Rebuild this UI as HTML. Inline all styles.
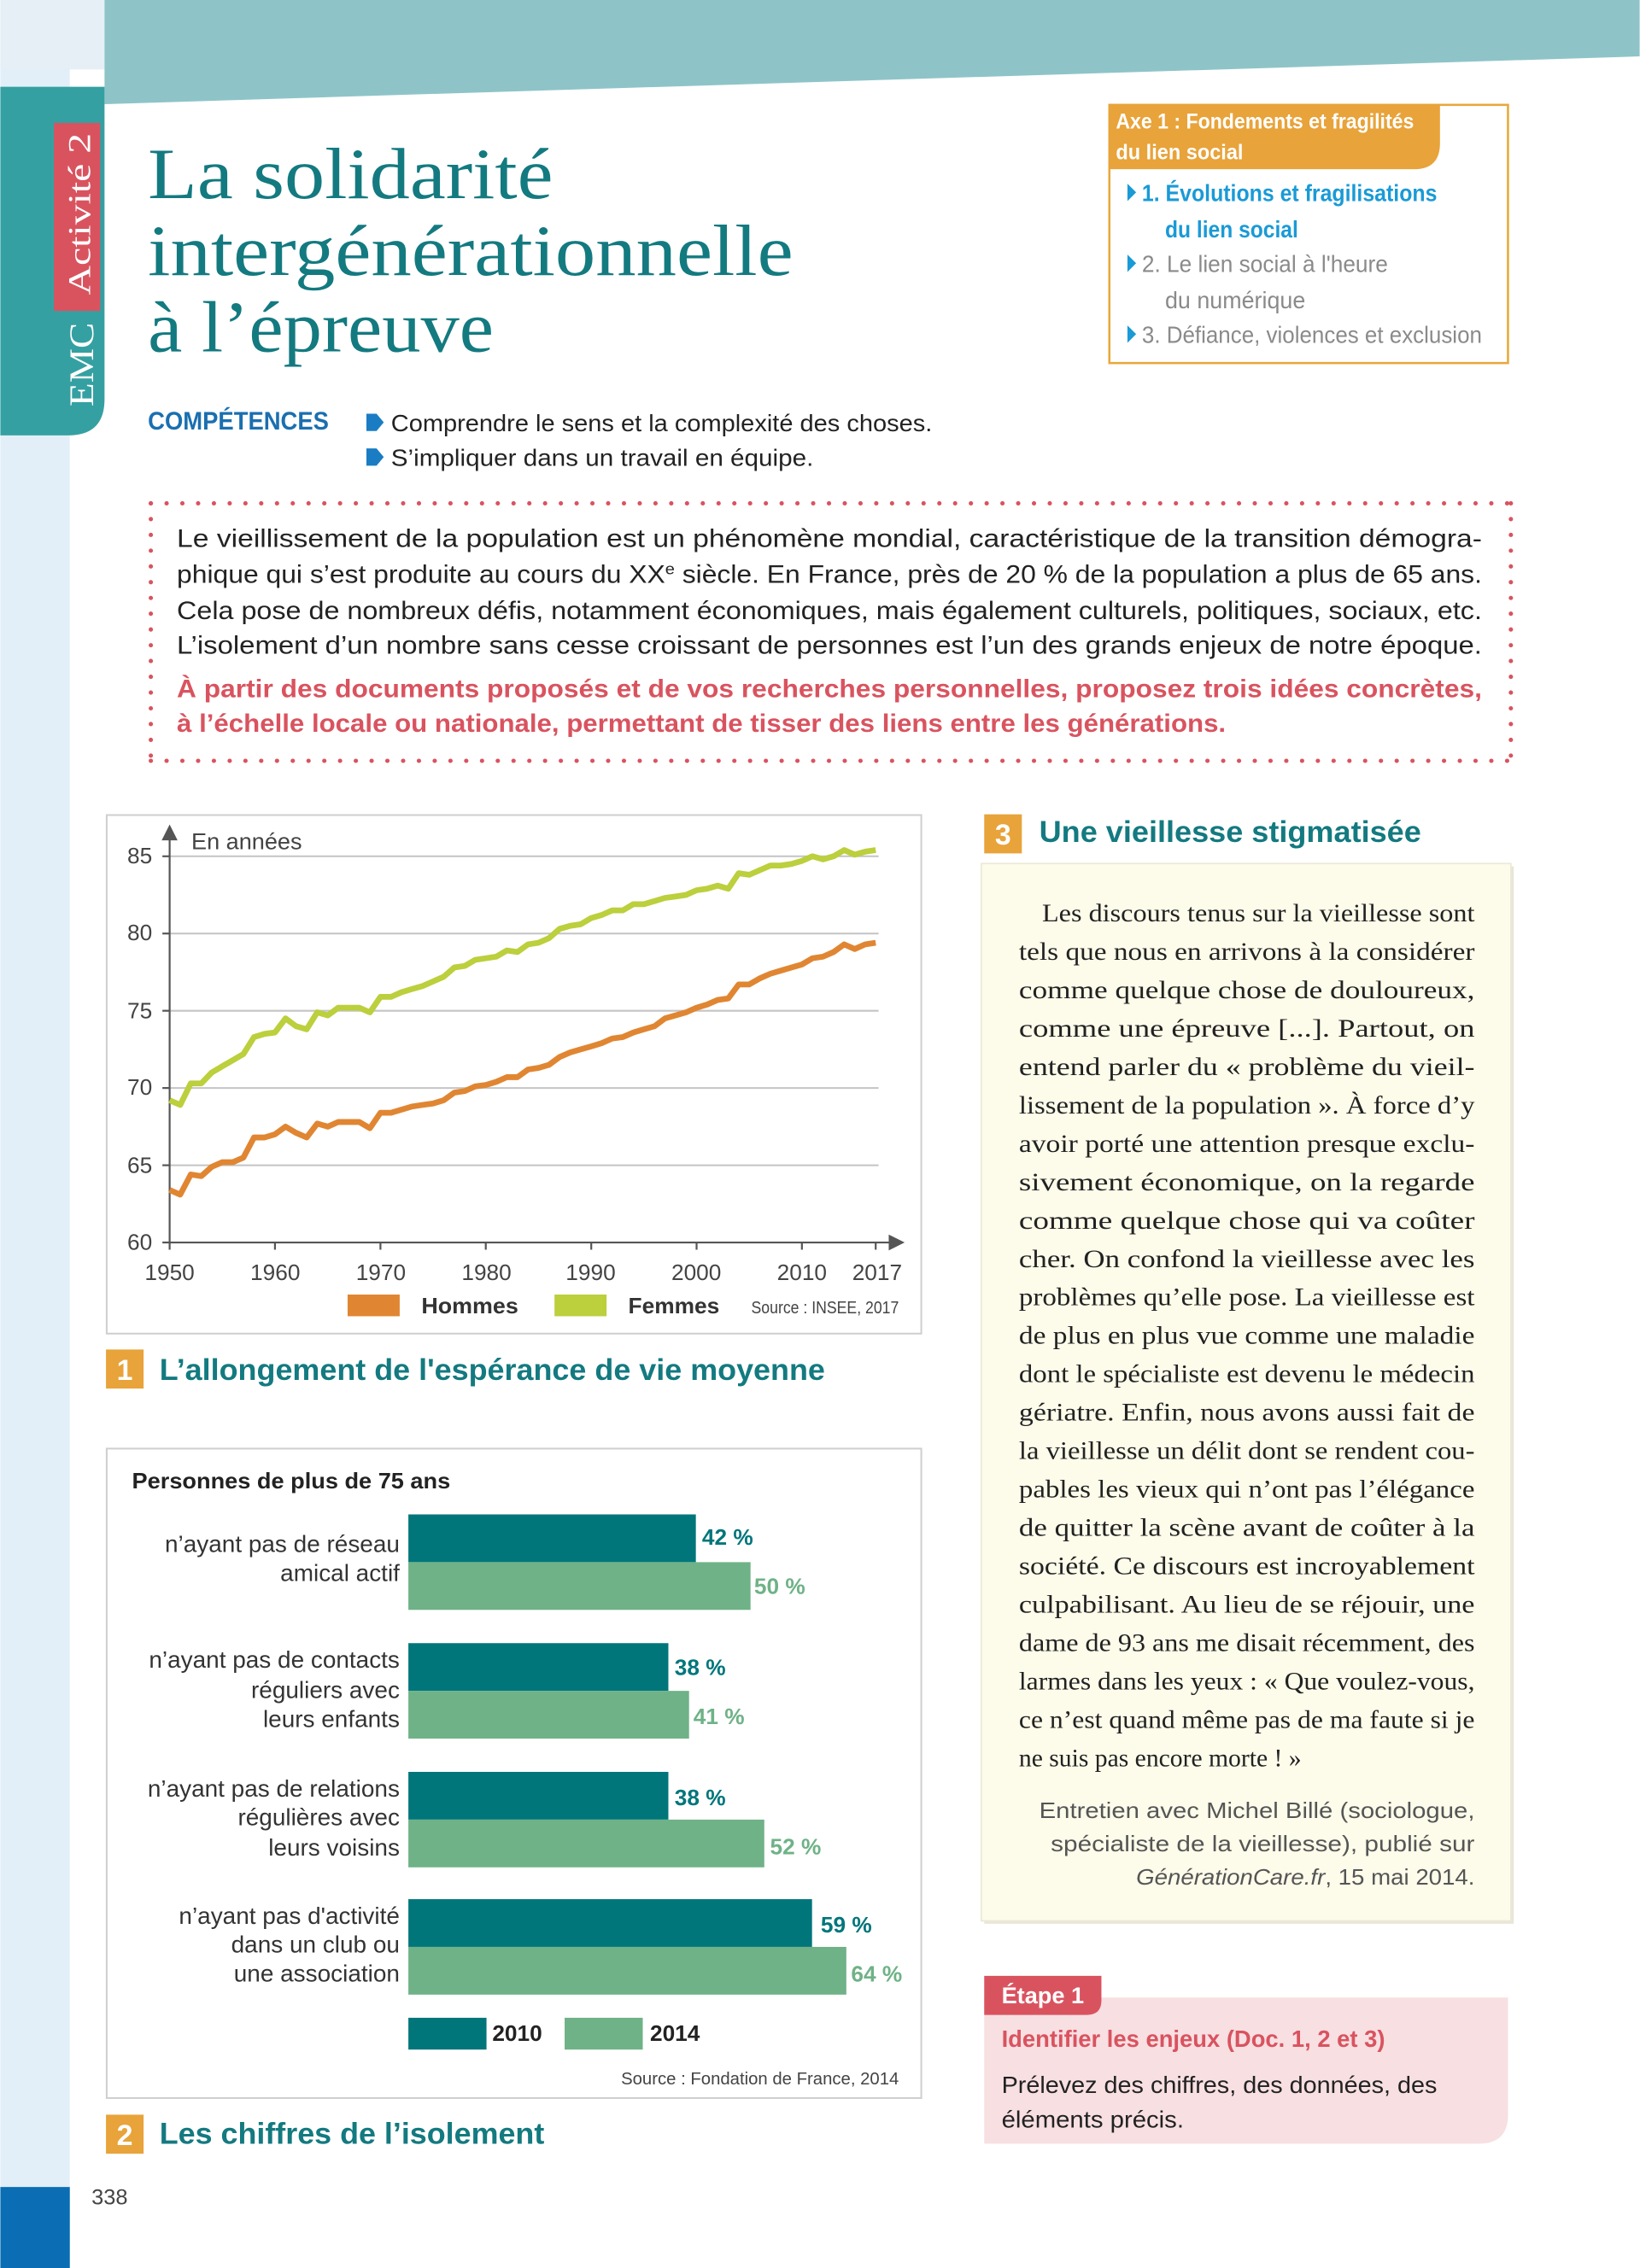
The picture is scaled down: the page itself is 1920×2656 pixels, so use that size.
<!DOCTYPE html>
<html><head><meta charset="utf-8">
<style>
html,body{margin:0;padding:0;background:#fff;}
body{width:1920px;height:2656px;overflow:hidden;}
svg{display:block;}
text{font-family:"Liberation Sans",sans-serif;}
.serif{font-family:"Liberation Serif",serif;}
</style></head>
<body>
<svg id="s" width="1920" height="2656" viewBox="0 0 1133 1568" xmlns="http://www.w3.org/2000/svg">
<!-- backgrounds -->
<rect x="0" y="0" width="1133" height="1568" fill="#fff"/>
<rect x="0" y="0" width="48" height="1568" fill="#e2eff8"/>
<rect x="0" y="0" width="72" height="48" fill="#e6eff6"/>
<rect x="0" y="1512" width="48" height="56" fill="#0b6db3"/>
<polygon points="72,0 1133,0 1133,39 72,72" fill="#8ec4c8"/>
<path d="M0,60 H72 V276 Q72,301 47,301 H0 Z" fill="#35a0a2"/>
<rect x="37" y="85" width="32" height="130" fill="#d9535f"/>
<text class="serif" transform="translate(62,204) rotate(-90)" font-size="22" fill="#fff" font-family="Liberation Serif" textLength="112" lengthAdjust="spacingAndGlyphs">Activité 2</text>
<text class="serif" transform="translate(64,281) rotate(-90)" font-size="24" fill="#fff" font-family="Liberation Serif" textLength="58" lengthAdjust="spacingAndGlyphs">EMC</text>

<!-- Title -->
<g fill="#137a80" font-family="Liberation Serif" font-size="50">
<text x="102" y="137" textLength="280" lengthAdjust="spacingAndGlyphs" class="serif">La solidarité</text>
<text x="102" y="190" textLength="446" lengthAdjust="spacingAndGlyphs" class="serif">intergénérationnelle</text>
<text x="102" y="243" textLength="239" lengthAdjust="spacingAndGlyphs" class="serif">à l’épreuve</text>
</g>

<!-- Axe box -->
<rect x="766.5" y="72.5" width="275.5" height="178.5" fill="none" stroke="#e8a83a" stroke-width="1.5"/>
<path d="M766,72 H995 V99 Q995,117 977,117 H766 Z" fill="#e8a33a"/>
<g font-weight="bold" fill="#fff" font-size="15">
<text x="771" y="89" textLength="206" lengthAdjust="spacingAndGlyphs">Axe 1 : Fondements et fragilités</text>
<text x="771" y="110" textLength="88" lengthAdjust="spacingAndGlyphs">du lien social</text>
</g>
<g fill="#1a9ad6">
<polygon points="779,127 785,133 779,139"/>
<polygon points="779,176 785,182 779,188"/>
<polygon points="779,225 785,231 779,237"/>
</g>
<g font-size="16.5" font-weight="bold" fill="#1a9ad6">
<text x="789" y="139" textLength="204" lengthAdjust="spacingAndGlyphs">1. Évolutions et fragilisations</text>
<text x="805" y="164" textLength="92" lengthAdjust="spacingAndGlyphs">du lien social</text>
</g>
<g font-size="16.5" fill="#8a8a8a">
<text x="789" y="188" textLength="170" lengthAdjust="spacingAndGlyphs">2. Le lien social à l'heure</text>
<text x="805" y="213" textLength="97" lengthAdjust="spacingAndGlyphs">du numérique</text>
<text x="789" y="237" textLength="235" lengthAdjust="spacingAndGlyphs">3. Défiance, violences et exclusion</text>
</g>

<!-- Compétences -->
<text x="102" y="297" font-size="17.5" font-weight="bold" fill="#1a6fb0" textLength="125" lengthAdjust="spacingAndGlyphs">COMPÉTENCES</text>
<path d="M253,286 H260 L265,292 L260,298 H253 Z" fill="#1a7dc4"/>
<path d="M253,310 H260 L265,316 L260,322 H253 Z" fill="#1a7dc4"/>
<g font-size="16.5" fill="#222">
<text x="270" y="298" textLength="374" lengthAdjust="spacingAndGlyphs">Comprendre le sens et la complexité des choses.</text>
<text x="270" y="322" textLength="292" lengthAdjust="spacingAndGlyphs">S’impliquer dans un travail en équipe.</text>
</g>

<!-- Dotted intro box -->
<g stroke="#d9535f" stroke-width="3" stroke-linecap="round" stroke-dasharray="0 10.9" fill="none">
<line x1="104" y1="348" x2="1044" y2="348"/>
<line x1="104" y1="526" x2="1044" y2="526"/>
<line x1="104" y1="348" x2="104" y2="526"/>
<line x1="1044" y1="348" x2="1044" y2="526"/>
</g>
<g font-size="17.5" fill="#222">
<text x="122" y="378" textLength="902" lengthAdjust="spacingAndGlyphs">Le vieillissement de la population est un phénomène mondial, caractéristique de la transition démogra-</text>
<text x="122" y="403" textLength="902" lengthAdjust="spacingAndGlyphs">phique qui s’est produite au cours du XX<tspan font-size="11" dy="-6">e</tspan><tspan dy="6"> siècle. En France, près de 20 % de la population a plus de 65 ans.</tspan></text>
<text x="122" y="428" textLength="902" lengthAdjust="spacingAndGlyphs">Cela pose de nombreux défis, notamment économiques, mais également culturels, politiques, sociaux, etc.</text>
<text x="122" y="452" textLength="902" lengthAdjust="spacingAndGlyphs">L’isolement d’un nombre sans cesse croissant de personnes est l’un des grands enjeux de notre époque.</text>
</g>
<g font-size="17.5" font-weight="bold" fill="#d9535f">
<text x="122" y="482" textLength="902" lengthAdjust="spacingAndGlyphs">À partir des documents proposés et de vos recherches personnelles, proposez trois idées concrètes,</text>
<text x="122" y="506" textLength="725" lengthAdjust="spacingAndGlyphs">à l’échelle locale ou nationale, permettant de tisser des liens entre les générations.</text>
</g>

<!-- Chart 1 -->
<rect x="73.5" y="563.5" width="563" height="358.5" fill="#fff" stroke="#cfcfcf" stroke-width="1.2"/>
<g stroke="#c4c4c4" stroke-width="1.2">
<line x1="117" y1="592" x2="607" y2="592"/>
<line x1="117" y1="645.4" x2="607" y2="645.4"/>
<line x1="117" y1="698.8" x2="607" y2="698.8"/>
<line x1="117" y1="752.2" x2="607" y2="752.2"/>
<line x1="117" y1="805.6" x2="607" y2="805.6"/>
</g>
<g stroke="#555" stroke-width="1.3">
<line x1="117" y1="578" x2="117" y2="859"/>
<line x1="117" y1="859" x2="616" y2="859"/>
<line x1="112" y1="592" x2="117" y2="592"/>
<line x1="112" y1="645.4" x2="117" y2="645.4"/>
<line x1="112" y1="698.8" x2="117" y2="698.8"/>
<line x1="112" y1="752.2" x2="117" y2="752.2"/>
<line x1="112" y1="805.6" x2="117" y2="805.6"/>
<line x1="112" y1="859" x2="117" y2="859"/>
<line x1="117" y1="859" x2="117" y2="864"/>
<line x1="189.8" y1="859" x2="189.8" y2="864"/>
<line x1="262.7" y1="859" x2="262.7" y2="864"/>
<line x1="335.5" y1="859" x2="335.5" y2="864"/>
<line x1="408.4" y1="859" x2="408.4" y2="864"/>
<line x1="481.2" y1="859" x2="481.2" y2="864"/>
<line x1="554" y1="859" x2="554" y2="864"/>
<line x1="605" y1="859" x2="605" y2="864"/>
</g>
<polygon points="117,570 111.5,581 122.5,581" fill="#555"/>
<polygon points="625,859 614,853.5 614,864.5" fill="#555"/>
<text x="132" y="587" font-size="16" fill="#444">En années</text>
<g font-size="15.5" fill="#444" text-anchor="end">
<text x="105" y="597">85</text><text x="105" y="650">80</text><text x="105" y="704">75</text>
<text x="105" y="757">70</text><text x="105" y="811">65</text><text x="105" y="864">60</text>
</g>
<g font-size="15.5" fill="#444" text-anchor="middle">
<text x="117" y="885">1950</text><text x="190" y="885">1960</text><text x="263" y="885">1970</text>
<text x="336" y="885">1980</text><text x="408" y="885">1990</text><text x="481" y="885">2000</text>
<text x="554" y="885">2010</text><text x="606" y="885">2017</text>
</g>
<polyline id="hom" fill="none" stroke="#e08632" stroke-width="4" stroke-linejoin="round" points=""/>
<polyline id="fem" fill="none" stroke="#bccf3c" stroke-width="4" stroke-linejoin="round" points=""/>
<rect x="240" y="895" width="36" height="15" fill="#e08632"/>
<text x="291" y="908" font-size="15.5" font-weight="bold" fill="#333" textLength="67" lengthAdjust="spacingAndGlyphs">Hommes</text>
<rect x="383" y="895" width="36" height="15" fill="#bccf3c"/>
<text x="434" y="908" font-size="15.5" font-weight="bold" fill="#333" textLength="63" lengthAdjust="spacingAndGlyphs">Femmes</text>
<text x="519" y="908" font-size="12" fill="#444" textLength="102" lengthAdjust="spacingAndGlyphs">Source : INSEE, 2017</text>

<!-- Caption 1 -->
<rect x="73" y="933" width="26" height="27" fill="#e8a33a"/>
<text x="86" y="954" font-size="20" font-weight="bold" fill="#fff" text-anchor="middle">1</text>
<text x="110" y="954" font-size="21" font-weight="bold" fill="#137a80" textLength="460" lengthAdjust="spacingAndGlyphs">L’allongement de l'espérance de vie moyenne</text>

<!-- Chart 2 -->
<rect x="73.5" y="1001.5" width="563" height="449" fill="#fff" stroke="#cfcfcf" stroke-width="1.2"/>
<text x="91" y="1029" font-size="15.5" font-weight="bold" fill="#222" textLength="220" lengthAdjust="spacingAndGlyphs">Personnes de plus de 75 ans</text>
<g fill="#00767b">
<rect x="282" y="1047" width="198.7" height="33"/>
<rect x="282" y="1136" width="179.7" height="33"/>
<rect x="282" y="1225" width="179.7" height="33"/>
<rect x="282" y="1313" width="279" height="33"/>
</g>
<g fill="#6fb287">
<rect x="282" y="1080" width="236.5" height="33"/>
<rect x="282" y="1169" width="194" height="33"/>
<rect x="282" y="1258" width="246" height="33"/>
<rect x="282" y="1346" width="302.7" height="33"/>
</g>
<g font-size="15.5" font-weight="bold" fill="#00767b">
<text x="485" y="1068">42 %</text><text x="466" y="1158">38 %</text>
<text x="466" y="1248">38 %</text><text x="567" y="1336">59 %</text>
</g>
<g font-size="15.5" font-weight="bold" fill="#6fb287">
<text x="521" y="1102">50 %</text><text x="479" y="1192">41 %</text>
<text x="532" y="1282">52 %</text><text x="588" y="1370">64 %</text>
</g>
<g font-size="16.5" fill="#333" text-anchor="end">
<text x="276" y="1073">n’ayant pas de réseau</text>
<text x="276" y="1093">amical actif</text>
<text x="276" y="1153">n’ayant pas de contacts</text>
<text x="276" y="1174">réguliers avec</text>
<text x="276" y="1194">leurs enfants</text>
<text x="276" y="1242">n’ayant pas de relations</text>
<text x="276" y="1262">régulières avec</text>
<text x="276" y="1283">leurs voisins</text>
<text x="276" y="1330">n’ayant pas d'activité</text>
<text x="276" y="1350">dans un club ou</text>
<text x="276" y="1370">une association</text>
</g>
<rect x="282" y="1395" width="54" height="22" fill="#00767b"/>
<text x="340" y="1411" font-size="15.5" font-weight="bold" fill="#222">2010</text>
<rect x="390" y="1395" width="54" height="22" fill="#6fb287"/>
<text x="449" y="1411" font-size="15.5" font-weight="bold" fill="#222">2014</text>
<text x="621" y="1441" font-size="12" fill="#444" text-anchor="end">Source : Fondation de France, 2014</text>

<!-- Caption 2 -->
<rect x="73" y="1462" width="26" height="27" fill="#e8a33a"/>
<text x="86" y="1483" font-size="20" font-weight="bold" fill="#fff" text-anchor="middle">2</text>
<text x="110" y="1482" font-size="21" font-weight="bold" fill="#137a80" textLength="266" lengthAdjust="spacingAndGlyphs">Les chiffres de l’isolement</text>

<text x="63" y="1524" font-size="15" fill="#444">338</text>

<!-- Caption 3 -->
<rect x="680" y="563" width="26" height="27" fill="#e8a33a"/>
<text x="693" y="584" font-size="20" font-weight="bold" fill="#fff" text-anchor="middle">3</text>
<text x="718" y="582" font-size="21" font-weight="bold" fill="#137a80" textLength="264" lengthAdjust="spacingAndGlyphs">Une vieillesse stigmatisée</text>

<!-- Quote box -->
<rect x="680" y="599" width="366" height="731" fill="#e8e6da"/>
<rect x="678" y="597" width="366" height="731" fill="#fdfbea" stroke="#ece9d6" stroke-width="1"/>
<g id="quote" font-family="Liberation Serif" font-size="17.5" fill="#222"></g>
<g font-size="15.5" fill="#555" text-anchor="end">
<text x="1019" y="1257" textLength="301" lengthAdjust="spacingAndGlyphs">Entretien avec Michel Billé (sociologue,</text>
<text x="1019" y="1280" textLength="293" lengthAdjust="spacingAndGlyphs">spécialiste de la vieillesse), publié sur</text>
<text x="1019" y="1303" textLength="234" lengthAdjust="spacingAndGlyphs"><tspan font-style="italic">GénérationCare.fr</tspan>, 15 mai 2014.</text>
</g>

<!-- Etape -->
<path d="M680,1381 H1042 V1462 Q1042,1482 1022,1482 H680 Z" fill="#f7dfe2"/>
<path d="M680,1366 H761 V1383 Q761,1393 751,1393 H680 Z" fill="#d9535f"/>
<text x="692" y="1385" font-size="16" font-weight="bold" fill="#fff" textLength="57" lengthAdjust="spacingAndGlyphs">Étape 1</text>
<text x="692" y="1415" font-size="16.5" font-weight="bold" fill="#d9535f" textLength="265" lengthAdjust="spacingAndGlyphs">Identifier les enjeux (Doc. 1, 2 et 3)</text>
<text x="692" y="1447" font-size="16.5" fill="#222" textLength="301" lengthAdjust="spacingAndGlyphs">Prélevez des chiffres, des données, des</text>
<text x="692" y="1471" font-size="16.5" fill="#222" textLength="126" lengthAdjust="spacingAndGlyphs">éléments précis.</text>
</svg>
<script>
var NS="http://www.w3.org/2000/svg";
var H=[63.4,63.1,64.4,64.3,64.9,65.2,65.2,65.5,66.8,66.8,67.0,67.5,67.1,66.8,67.7,67.5,67.8,67.8,67.8,67.4,68.4,68.4,68.6,68.8,68.9,69.0,69.2,69.7,69.8,70.1,70.2,70.4,70.7,70.7,71.2,71.3,71.5,72.0,72.3,72.5,72.7,72.9,73.2,73.3,73.6,73.8,74.0,74.5,74.7,74.9,75.2,75.4,75.7,75.8,76.7,76.7,77.1,77.4,77.6,77.8,78.0,78.4,78.5,78.8,79.3,79.0,79.3,79.4];
var F=[69.2,68.9,70.3,70.3,71.0,71.4,71.8,72.2,73.3,73.5,73.6,74.5,74.0,73.8,74.9,74.7,75.2,75.2,75.2,74.9,75.9,75.9,76.2,76.4,76.6,76.9,77.2,77.8,77.9,78.3,78.4,78.5,78.9,78.8,79.3,79.4,79.7,80.3,80.5,80.6,81.0,81.2,81.5,81.5,81.9,81.9,82.1,82.3,82.4,82.5,82.8,82.9,83.1,82.9,83.9,83.8,84.1,84.4,84.4,84.5,84.7,85.0,84.8,85.0,85.4,85.1,85.3,85.4];
function pts(a){return a.map(function(v,i){return (117+i*7.284).toFixed(1)+","+(859-(v-60)*10.68).toFixed(1);}).join(" ");}
document.getElementById("hom").setAttribute("points",pts(H));
document.getElementById("fem").setAttribute("points",pts(F));
var L=["Les discours tenus sur la vieillesse sont","tels que nous en arrivons à la considérer","comme quelque chose de douloureux,","comme une épreuve [...]. Partout, on","entend parler du « problème du vieil-","lissement de la population ». À force d’y","avoir porté une attention presque exclu-","sivement économique, on la regarde","comme quelque chose qui va coûter","cher. On confond la vieillesse avec les","problèmes qu’elle pose. La vieillesse est","de plus en plus vue comme une maladie","dont le spécialiste est devenu le médecin","gériatre. Enfin, nous avons aussi fait de","la vieillesse un délit dont se rendent cou-","pables les vieux qui n’ont pas l’élégance","de quitter la scène avant de coûter à la","société. Ce discours est incroyablement","culpabilisant. Au lieu de se réjouir, une","dame de 93 ans me disait récemment, des","larmes dans les yeux : « Que voulez-vous,","ce n’est quand même pas de ma faute si je","ne suis pas encore morte ! »"];
var g=document.getElementById("quote");
L.forEach(function(s,i){var t=document.createElementNS(NS,"text");var x=i==0?720:704;t.setAttribute("x",x);t.setAttribute("y",(637+i*26.55).toFixed(1));t.setAttribute("class","serif");
if(i<L.length-1){t.setAttribute("textLength",1019-x);t.setAttribute("lengthAdjust","spacingAndGlyphs");}
t.textContent=s;g.appendChild(t);});
</script>
</body></html>
